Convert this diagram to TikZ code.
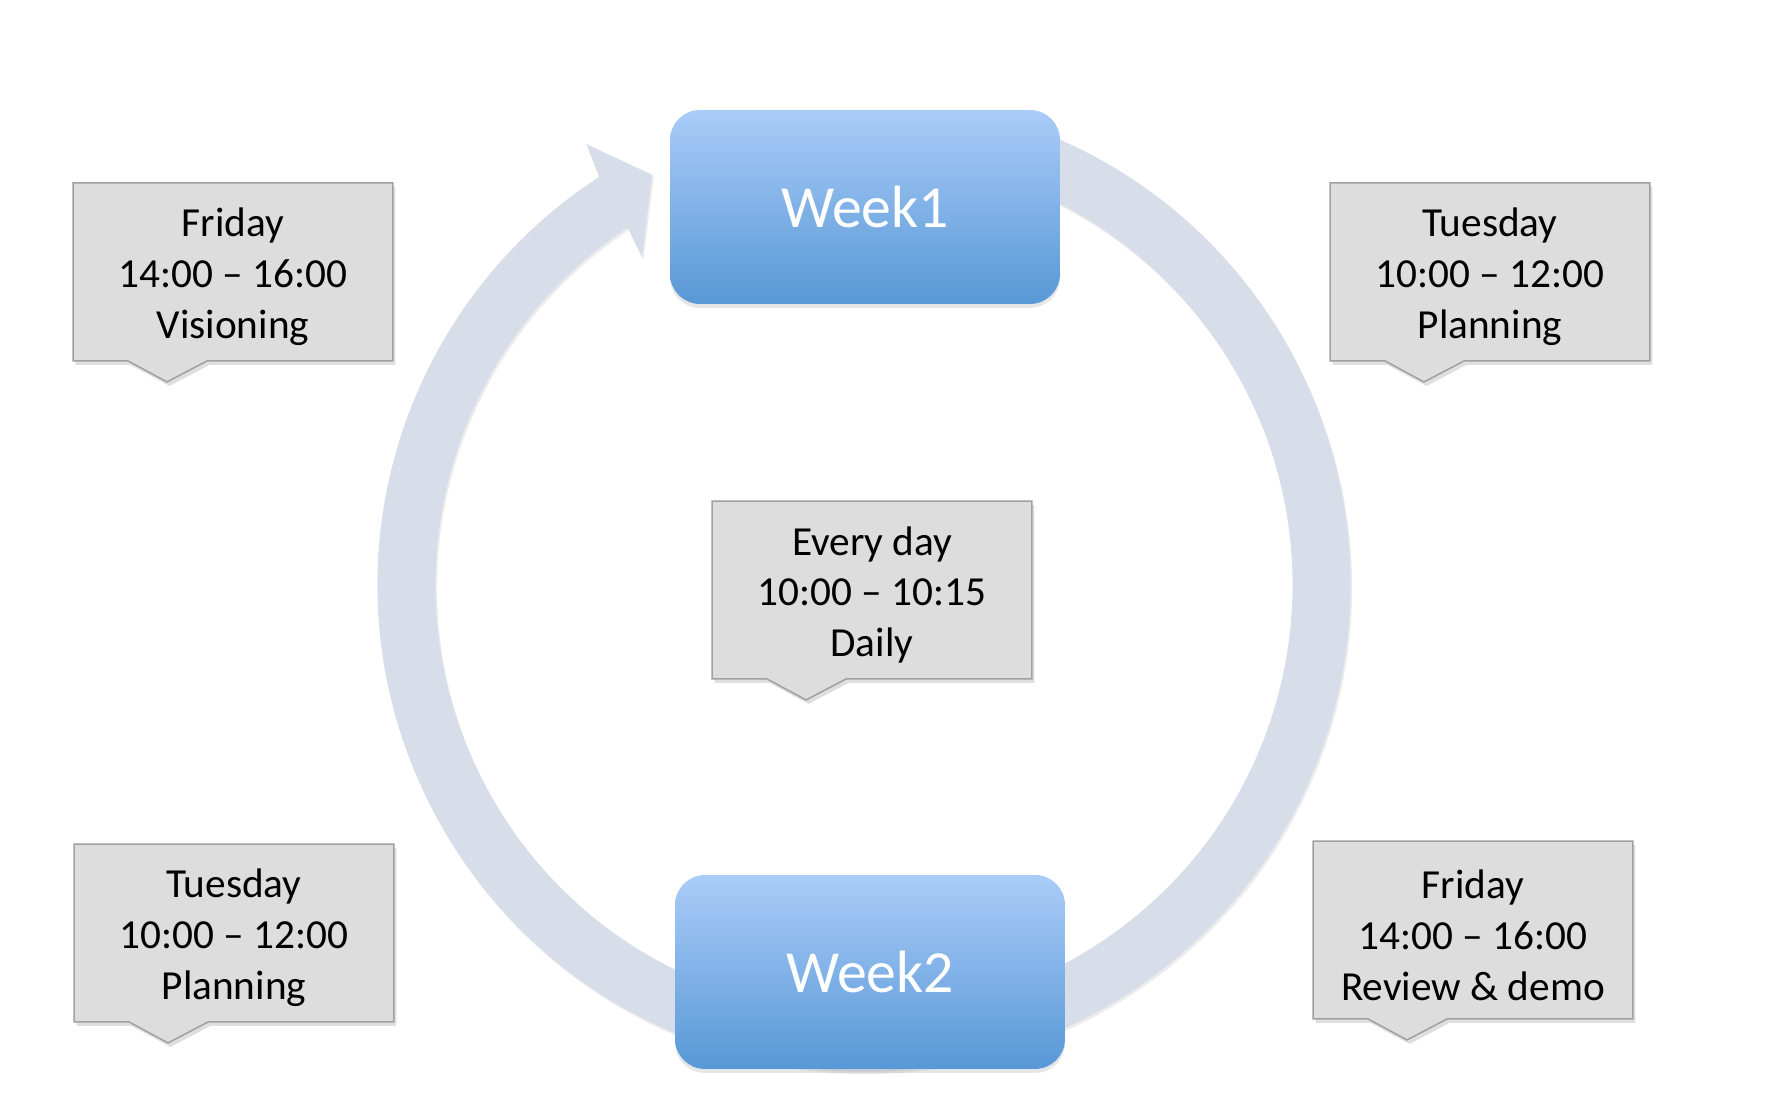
\documentclass[tikz,border=0pt]{standalone}
\usepackage{fontspec}
\setmainfont{Carlito}
\usetikzlibrary{calc,shadows,backgrounds}

\definecolor{ringgray}{RGB}{215,221,233}
\definecolor{weektop}{RGB}{170,204,248}
\definecolor{weekbottom}{RGB}{88,152,214}
\definecolor{slotfill}{RGB}{221,221,221}
\definecolor{slotedge}{RGB}{160,160,160}

\tikzset{
  weekbox/.style={rectangle, rounded corners=0.6cm, minimum width=7.8cm,
    minimum height=3.88cm, top color=weektop, bottom color=weekbottom,
    text=white, font=\fontsize{34}{40}\selectfont,
    drop shadow={shadow xshift=0cm, shadow yshift=-0.08cm, opacity=0.2}},
  slottext/.style={align=center, minimum width=6.4cm, minimum height=3.56cm,
    inner sep=0pt, outer sep=0pt, font=\fontsize{23.5}{29}\selectfont},
  slotbox/.style={fill=slotfill, draw=slotedge, line width=0.03cm,
    drop shadow={shadow xshift=0.05cm, shadow yshift=-0.08cm, opacity=0.25}},
  cyclearrow/.style={fill=ringgray,
    drop shadow={shadow xshift=0.03cm, shadow yshift=-0.05cm, opacity=0.15}}
}

% frame with pointer behind a slot node (text sits a little low)
\newcommand{\slotframe}[1]{%
  \begin{pgfonlayer}{background}
    \path[slotbox] ($(#1.north west)+(0,5)$) -- ($(#1.north east)+(0,5)$)
      -- ($(#1.south east)+(0,5)$)
      -- ($(#1.south west)+(134,5)$) -- ($(#1.south west)+(94,-16)$)
      -- ($(#1.south west)+(55,5)$) -- ($(#1.south west)+(0,5)$) -- cycle;
  \end{pgfonlayer}}

\begin{document}
\begin{tikzpicture}[x=0.02cm, y=0.02cm]
    \useasboundingbox (0,0) rectangle (1782,1114);

    % Cycle arrow
    \begin{scope}[shift={(864,529)}]
        \path[cyclearrow] (72:486.5) arc[start angle=72, end angle=-237, radius=486.5]
            -- (122.2:521) -- (117.3:461.6) -- (124.1:396) -- (-236.5:428.5)
            arc[start angle=-236.5, end angle=72, radius=428.5] -- cycle;
    \end{scope}

    % Weeks
    \node[weekbox] (week1) at (865,907) {Week1};
    \node[weekbox] (week2) at (870,142) {Week2};

    % Meetings
    \node[slottext] (visioning) at (233,837) {Friday\\14:00 -- 16:00\\Visioning};
    \node[slottext] (planning1) at (1490,837) {Tuesday\\10:00 -- 12:00\\Planning};
    \node[slottext] (daily) at (872,519) {Every day\\10:00 -- 10:15\\Daily};
    \node[slottext] (planning2) at (234,176) {Tuesday\\10:00 -- 12:00\\Planning};
    \node[slottext] (review) at (1473,179) {Friday\\14:00 -- 16:00\\Review \& demo};

    \foreach \n in {visioning,planning1,daily,planning2,review}
        \slotframe{\n};

\end{tikzpicture}
\end{document}
